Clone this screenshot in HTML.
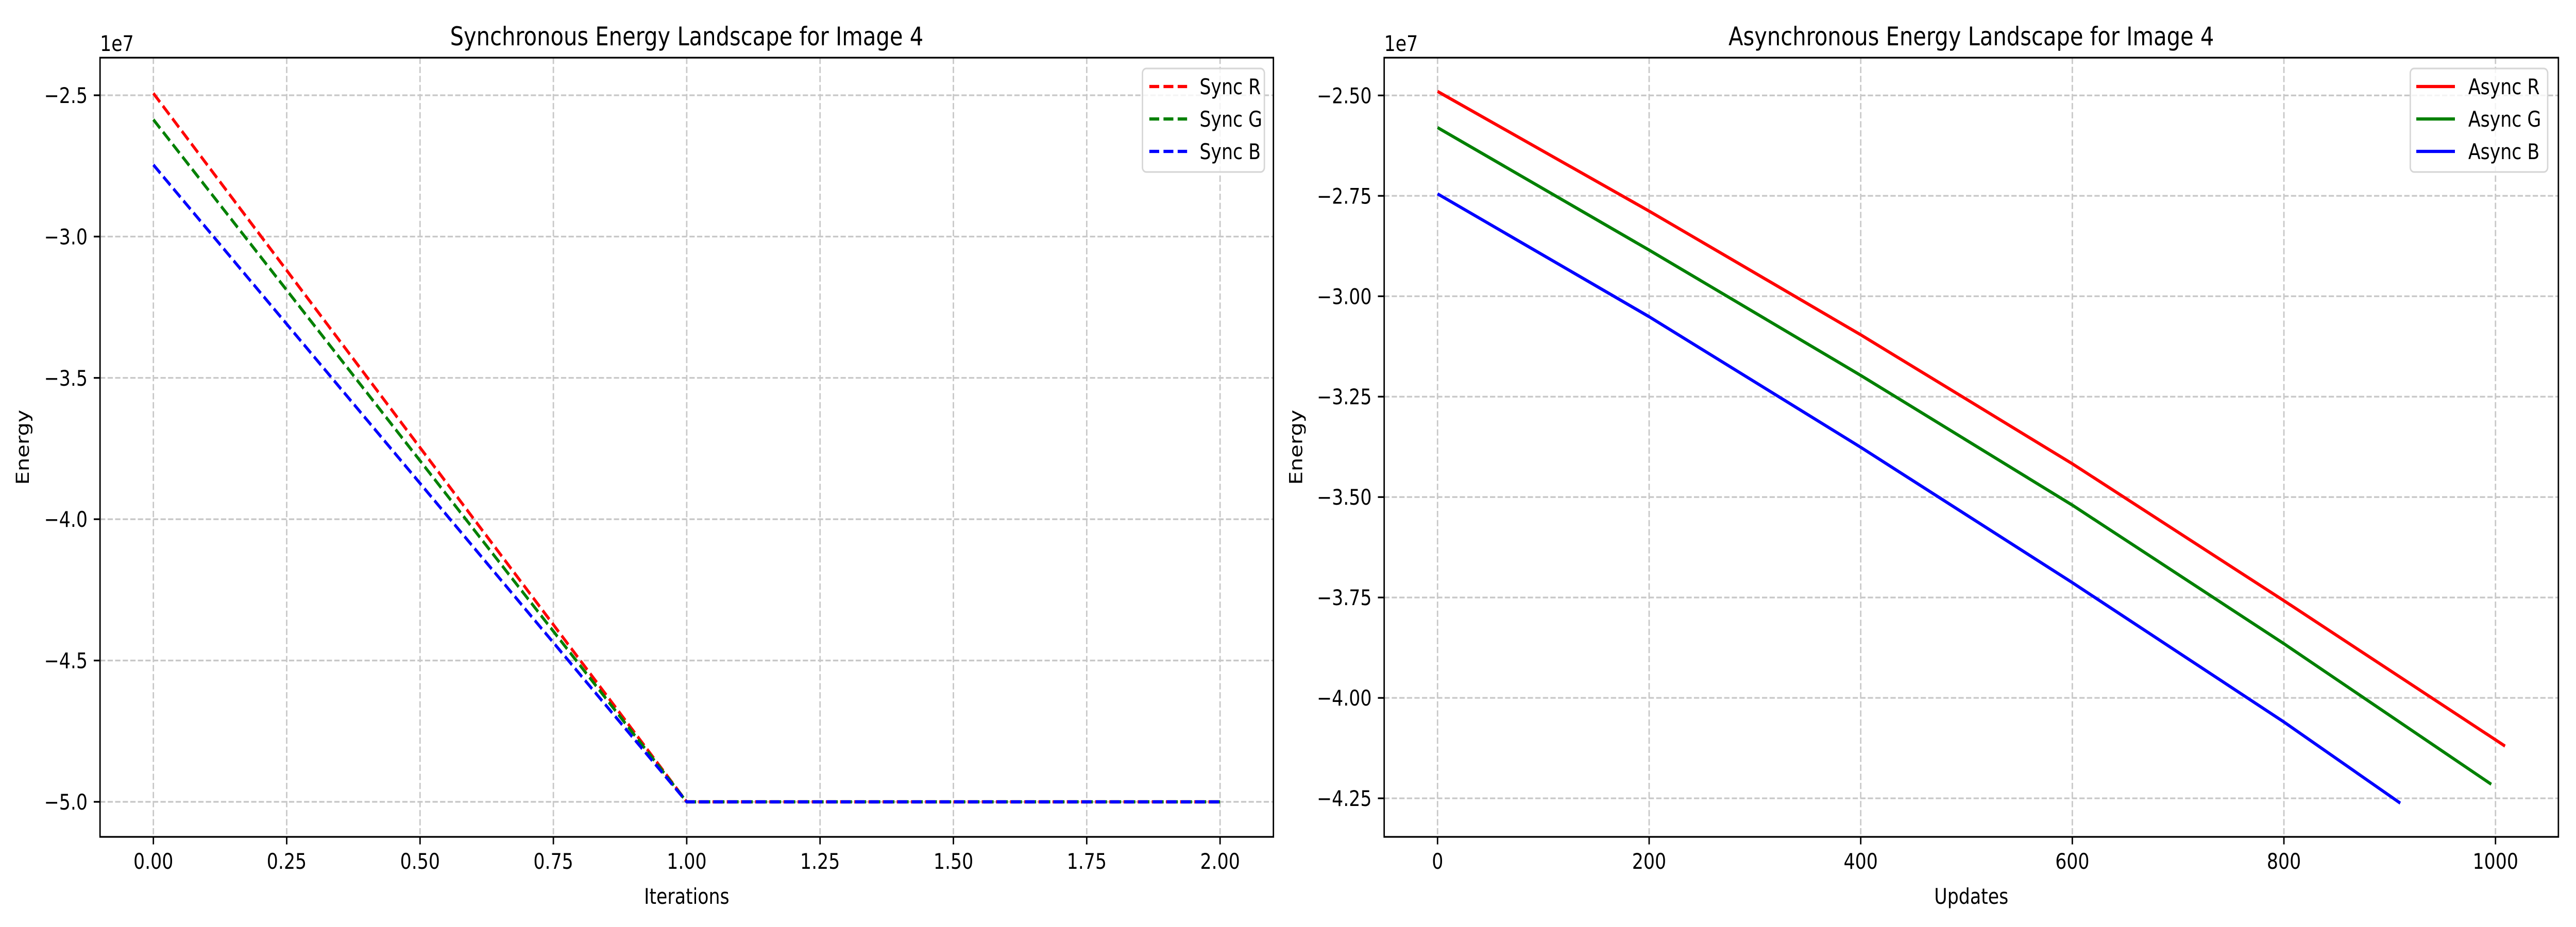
<!DOCTYPE html>
<html><head><meta charset="utf-8"><style>
html,body{margin:0;padding:0;background:#fff;width:100%;height:100%;overflow:hidden;}
svg{display:block;width:100vw;height:100vh;font-family:"DejaVu Sans","Liberation Sans",sans-serif;}
</style></head><body>
<svg id="fig" viewBox="0 0 6000 1800" preserveAspectRatio="none" xmlns="http://www.w3.org/2000/svg"></svg>
<script>
// ---- Left chart data (synchronous) ----
const syncX = [0, 1, 2];
const syncR = [-2.493, -5.0, -5.0];
const syncG = [-2.586, -5.0, -5.0];
const syncB = [-2.746, -5.0, -5.0];
const syncXTicks = [0, 0.25, 0.5, 0.75, 1.0, 1.25, 1.5, 1.75, 2.0];
const syncXTickLabels = ["0.00","0.25","0.50","0.75","1.00","1.25","1.50","1.75","2.00"];
const syncYTicks = [-2.5, -3.0, -3.5, -4.0, -4.5, -5.0];
const syncYTickLabels = ["\u22122.5","\u22123.0","\u22123.5","\u22124.0","\u22124.5","\u22125.0"];
// ---- Right chart data (asynchronous) ----
const asyncRX = [0, 200, 400, 600, 800, 1009];
const asyncR = [-2.49, -2.788, -3.096, -3.417, -3.758, -4.12];
const asyncGX = [0, 200, 400, 600, 800, 996];
const asyncG = [-2.58, -2.885, -3.197, -3.52, -3.865, -4.215];
const asyncBX = [0, 200, 400, 600, 800, 910];
const asyncB = [-2.745, -3.051, -3.376, -3.713, -4.06, -4.262];
const asyncXTicks = [0, 200, 400, 600, 800, 1000];
const asyncXTickLabels = ["0","200","400","600","800","1000"];
const asyncYTicks = [-2.5, -2.75, -3.0, -3.25, -3.5, -3.75, -4.0, -4.25];
const asyncYTickLabels = ["\u22122.50","\u22122.75","\u22123.00","\u22123.25","\u22123.50","\u22123.75","\u22124.00","\u22124.25"];

const NS = "http://www.w3.org/2000/svg";
const svg = document.getElementById("fig");
function mk(tag, attrs, parent) {
  const e = document.createElementNS(NS, tag);
  for (const k in attrs) e.setAttribute(k, attrs[k]);
  (parent || svg).appendChild(e);
  return e;
}
function txt(s, attrs, parent) { const t = mk("text", attrs, parent); t.textContent = s; return t; }

function drawChart(cfg) {
  const g = mk("g", {});
  
  
  const L = cfg.left, R = cfg.right, T = 112, B = 1625;
  const sx = v => L + (v - cfg.xmin) / (cfg.xmax - cfg.xmin) * (R - L);
  const sy = v => B - (v - cfg.ymin) / (cfg.ymax - cfg.ymin) * (B - T);
  cfg.xTicks.forEach(v => {
    const l = mk("line", {x1: sx(v), x2: sx(v), y1: T, y2: B, stroke: "#c8c8c8", "stroke-width": 3.3, "stroke-dasharray": "12.3 5.3"}, g);
    
    
  });
  cfg.yTicks.forEach(v => {
    const l = mk("line", {x1: L, x2: R, y1: sy(v), y2: sy(v), stroke: "#c8c8c8", "stroke-width": 3.3, "stroke-dasharray": "12.3 5.3"}, g);
    
    
  });
  cfg.series.forEach(s => {
    const pts = s.x.map((xv, i) => sx(xv).toFixed(1) + "," + sy(s.y[i]).toFixed(1)).join(" ");
    const p = mk("polyline", {points: pts, fill: "none", stroke: s.color, "stroke-width": 6.25, "stroke-dasharray": s.dash || "none", "stroke-linejoin": "round"}, g);
    
    
  });
  const fr = mk("rect", {x: L, y: T, width: R - L, height: B - T, fill: "none", stroke: "#000", "stroke-width": 3.33}, g);
  
  
  cfg.xTicks.forEach((v, i) => {
    mk("line", {x1: sx(v), x2: sx(v), y1: B, y2: B + 14.6, stroke: "#000", "stroke-width": 3.33}, g);
    const t = txt(cfg.xLabels[i], {x: sx(v), y: 1687, "font-size": 41.7, "text-anchor": "middle"}, g);
    
    
  });
  cfg.yTicks.forEach((v, i) => {
    mk("line", {x1: L - 14.6, x2: L, y1: sy(v), y2: sy(v), stroke: "#000", "stroke-width": 3.33}, g);
    const t = txt(cfg.yLabels[i], {x: L - 29, y: sy(v) + 15, "font-size": 41.7, "text-anchor": "end"}, g);
    
    
  });
  const off = txt("1e7", {x: L, y: 99, "font-size": 41.7}, g);
  
  
  const ti = txt(cfg.title, {x: (L + R) / 2, y: 88, "font-size": 50, "text-anchor": "middle"}, g);
  
  
  const xl = txt(cfg.xTitle, {x: (L + R) / 2, y: 1755, "font-size": 41.7, "text-anchor": "middle"}, g);
  
  
  const yl = txt("Energy", {x: 0, y: 0, "font-size": 41.7, "text-anchor": "middle", transform: `translate(${cfg.ylabelX},${(T + B) / 2}) rotate(-90)`}, g);
  
  
  const lg = mk("g", {}, g);
  
  
  mk("rect", {x: cfg.lg.l, y: 133, width: cfg.lg.r - cfg.lg.l, height: 201, rx: 9, fill: "#fff", "fill-opacity": 0.8, stroke: "#d6d6d6", "stroke-width": 3.3}, lg);
  const rows = [168, 231, 294];
  cfg.series.forEach((s, i) => {
    const e = mk("g", {}, lg);
    
    
    mk("line", {x1: cfg.lg.l1, x2: cfg.lg.l2, y1: rows[i], y2: rows[i], stroke: s.color, "stroke-width": 6.25, "stroke-dasharray": s.dash || "none"}, e);
    txt(s.label, {x: cfg.lg.tx, y: rows[i] + 15, "font-size": 41.7}, e);
  });
}

drawChart({
  name: "sync-chart", left: 233, right: 2966, xmin: -0.1, xmax: 2.1, ymin: -5.124, ymax: -2.367,
  xTicks: syncXTicks, xLabels: syncXTickLabels, yTicks: syncYTicks, yLabels: syncYTickLabels,
  title: "Synchronous Energy Landscape for Image 4", xTitle: "Iterations", ylabelX: 67,
  lg: {l: 2661, r: 2945, l1: 2677, l2: 2765, tx: 2794},
  series: [
    {id: "sync-r-line", label: "Sync R", color: "#ff0000", x: syncX, y: syncR, dash: "23 10"},
    {id: "sync-g-line", label: "Sync G", color: "#008000", x: syncX, y: syncG, dash: "23 10"},
    {id: "sync-b-line", label: "Sync B", color: "#0000ff", x: syncX, y: syncB, dash: "23 10"}
  ]
});
drawChart({
  name: "async-chart", left: 3224, right: 5959, xmin: -50.45, xmax: 1059.45, ymin: -4.346, ymax: -2.406,
  xTicks: asyncXTicks, xLabels: asyncXTickLabels, yTicks: asyncYTicks, yLabels: asyncYTickLabels,
  title: "Asynchronous Energy Landscape for Image 4", xTitle: "Updates", ylabelX: 3033,
  lg: {l: 5614, r: 5934, l1: 5628, l2: 5718, tx: 5749},
  series: [
    {id: "async-r-line", label: "Async R", color: "#ff0000", x: asyncRX, y: asyncR},
    {id: "async-g-line", label: "Async G", color: "#008000", x: asyncGX, y: asyncG},
    {id: "async-b-line", label: "Async B", color: "#0000ff", x: asyncBX, y: asyncB}
  ]
});
</script>
</body></html>
